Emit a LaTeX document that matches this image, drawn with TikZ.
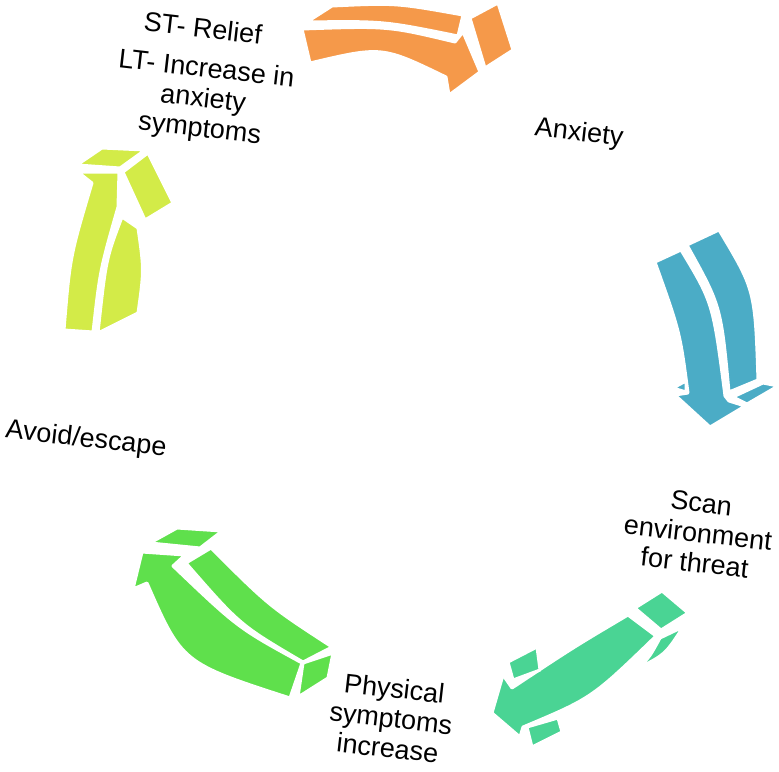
\documentclass[tikz,border=0pt]{standalone}
\usepackage{fontspec}
\setmainfont{Liberation Sans}
\definecolor{orangeA}{HTML}{F5994A}
\definecolor{blueA}{HTML}{4BACC6}
\definecolor{tealA}{HTML}{4AD494}
\definecolor{greenA}{HTML}{5FE04C}
\definecolor{limeA}{HTML}{D3EB48}
\begin{document}
\begin{tikzpicture}[x=1pt,y=-1pt,
    face/.style={draw=white,line width=3pt,line join=round},
    lbl/.style={rotate=-6.5,align=center,inner sep=0pt,font=\fontsize{27}{30}\selectfont}]
\useasboundingbox (0,0) rectangle (779,771);
\fill[face,fill=orangeA] (307,22) -- (332,6) .. controls (396,3) .. (463,15) -- (458,36) .. controls (384,21) .. (307,22) -- cycle;
\fill[face,fill=orangeA] (302,29) .. controls (388,26) .. (455,42) -- (463,32) -- (480,72) -- (449,95) -- (446,77) .. controls (382,46) .. (310,63) -- cycle;
\fill[face,fill=orangeA] (470,18) -- (498,3) -- (513,50) -- (485,68) -- cycle;
\fill[face,fill=blueA] (687,245) -- (719,230) .. controls (755,290) .. (758,380) -- (729,392) .. controls (721,306) .. (687,245) -- cycle;
\fill[face,fill=blueA] (655,262) -- (681,250) .. controls (713,303) .. (725,396) -- (729,401) -- (745,406) -- (710,427) -- (675,395) -- (688,393) .. controls (680,332) .. (655,262) -- cycle;
\fill[face,fill=blueA] (673,388) -- (686,381) -- (686,392) -- cycle;
\fill[face,fill=blueA] (733,397) -- (763,383) -- (778,386) -- (747,404) -- cycle;
\fill[face,fill=tealA] (635,608) -- (662,591) -- (688,613) -- (661,630) -- cycle;
\fill[face,fill=tealA] (628,615) .. controls (574,647) .. (512,688) -- (503,675) -- (492,713) -- (520,737) -- (523,727) .. controls (592,698) .. (656,636) -- cycle;
\fill[face,fill=tealA] (660,638) -- (683,627) .. controls (665,655) .. (632,671) .. controls (648,660) .. (660,638) -- cycle;
\fill[face,fill=tealA] (508,662) -- (537,647) -- (540,670) -- (513,680) -- cycle;
\fill[face,fill=tealA] (527,727) -- (558,718) -- (562,732) -- (532,747) -- cycle;
\fill[face,fill=greenA] (142,552) -- (185,555) -- (173,566) .. controls (238,628) .. (302,663) -- (290,698) .. controls (182,663) .. (147,583) -- (133,589) -- cycle;
\fill[face,fill=greenA] (186,563) -- (211,548) .. controls (269,606) .. (332,647) -- (303,662) .. controls (240,625) .. (186,563) -- cycle;
\fill[face,fill=greenA] (150,543) -- (177,528) -- (222,531) -- (200,548) -- cycle;
\fill[face,fill=greenA] (303,663) -- (333,653) -- (328,678) -- (298,697) -- cycle;
\fill[face,fill=limeA] (78,172) -- (119,172) -- (118,207) .. controls (100,270) .. (93,332) -- (64,330) .. controls (70,257) .. (92,183) -- cycle;
\fill[face,fill=limeA] (77,165) -- (102,148) -- (145,150) -- (120,168) -- cycle;
\fill[face,fill=limeA] (123,172) -- (148,153) -- (173,203) -- (145,220) -- cycle;
\fill[face,fill=limeA] (122,217) -- (138,228) .. controls (144,270) .. (138,313) -- (98,333) .. controls (106,259) .. (122,217) -- cycle;
\node[lbl] at (203,28)(relief){ST- Relief};
\node[lbl] at (203,100)(increase){LT- Increase in\\anxiety\\symptoms};
\node[lbl] at (579,134)(anxiety){Anxiety};
\node[lbl] at (698,533)(scan){Scan\\environment\\for threat};
\node[lbl] at (391,718)(physical){Physical\\symptoms\\increase};
\node[lbl] at (86,440)(avoid){Avoid/escape};
\end{tikzpicture}
\end{document}
